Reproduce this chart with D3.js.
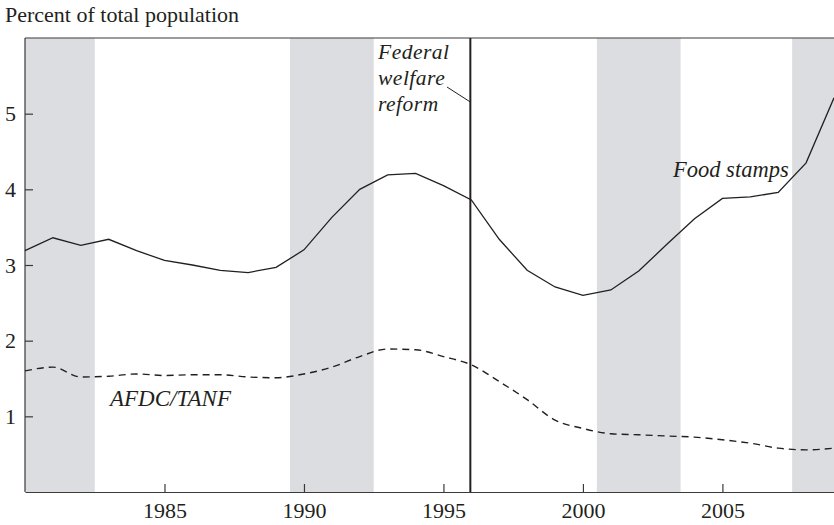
<!DOCTYPE html>
<html>
<head>
<meta charset="utf-8">
<script src="https://cdn.jsdelivr.net/npm/d3@7"></script>
<style>
  body { margin: 0; background: #fff; }
  svg { display: block; font-family: "Liberation Serif", "DejaVu Serif", serif; }
</style>
</head>
<body>
<svg id="chart" width="834" height="525"></svg>
<script>
// years and series (percent of total population)
const years = d3.range(1980, 2010);
const foodStamps = [3.19, 3.36, 3.26, 3.34, 3.19, 3.06, 3.00, 2.93, 2.90, 2.97,
  3.20, 3.63, 4.00, 4.19, 4.21, 4.05, 3.86, 3.34, 2.93, 2.71,
  2.60, 2.67, 2.92, 3.27, 3.61, 3.88, 3.90, 3.96, 4.35, 5.21];
const afdcTanf = [1.60, 1.65, 1.52, 1.53, 1.56, 1.54, 1.55, 1.55, 1.52, 1.51,
  1.56, 1.65, 1.79, 1.89, 1.88, 1.79, 1.68, 1.46, 1.22, 0.95,
  0.84, 0.77, 0.756, 0.74, 0.725, 0.69, 0.645, 0.58, 0.557, 0.58];

// recession shading [start, end]
const recessions = [[1980, 1982.5], [1989.5, 1992.5], [2000.5, 2003.5], [2007.5, 2009]];
const reformYear = 1996;

const yTicks = [1, 2, 3, 4, 5];
const xTicks = [1985, 1990, 1995, 2000, 2005];

const margin = { top: 38, left: 25, bottom: 492, right: 834 };
const ink = "#231f20";

const svg = d3.select("#chart");

const x = d3.scaleLinear().domain([1980, 2009]).range([margin.left, margin.right]);
const y = d3.scaleLinear().domain([0, 6]).range([margin.bottom, margin.top]);

// recession bands
svg.append("g")
  .selectAll("rect")
  .data(recessions)
  .enter()
  .append("rect")
  .attr("x", d => x(d[0]))
  .attr("y", y(6))
  .attr("width", d => x(d[1]) - x(d[0]))
  .attr("height", y(0) - y(6))
  .attr("fill", "#dcdde0");

// top frame line
svg.append("line")
  .attr("x1", x(1980)).attr("x2", 834)
  .attr("y1", y(6)).attr("y2", y(6))
  .attr("stroke", "#3a3a3a").attr("stroke-width", 1.2);

// axes
const yAxis = svg.append("g")
  .attr("transform", "translate(" + margin.left + ",0)")
  .call(d3.axisLeft(y).tickValues(yTicks).tickFormat(d3.format("d"))
    .tickSize(-8).tickSizeOuter(0).tickPadding(9));

const xAxis = svg.append("g")
  .attr("transform", "translate(0," + margin.bottom + ")")
  .call(d3.axisBottom(x).tickValues(xTicks).tickFormat(d3.format("d"))
    .tickSize(-8).tickSizeOuter(0).tickPadding(10));

[yAxis, xAxis].forEach(a => {
  a.attr("font-family", null).attr("font-size", null);
  a.select(".domain").attr("stroke", "#3a3a3a").attr("stroke-width", 1.2);
  a.selectAll(".tick line").attr("stroke", "#3a3a3a").attr("stroke-width", 1.2);
  a.selectAll(".tick text").attr("fill", ink).style("font-size", "22px");
});
// make the left axis span the full height
yAxis.select(".domain").attr("d", "M0," + y(6) + "V" + y(0));

// series lines
const solid = d3.line().x((d, i) => x(years[i])).y(d => y(d));
const smooth = d3.line().x((d, i) => x(years[i])).y(d => y(d)).curve(d3.curveMonotoneX);

svg.append("path")
  .datum(afdcTanf)
  .attr("d", smooth)
  .attr("fill", "none")
  .attr("stroke", ink)
  .attr("stroke-width", 1.4)
  .attr("stroke-dasharray", "7,5");

svg.append("path")
  .datum(foodStamps)
  .attr("d", solid)
  .attr("fill", "none")
  .attr("stroke", ink)
  .attr("stroke-width", 1.3);

// welfare reform line
svg.append("line")
  .attr("x1", x(reformYear) - 1).attr("x2", x(reformYear) - 1)
  .attr("y1", y(6)).attr("y2", y(0))
  .attr("stroke", ink).attr("stroke-width", 2);

// leader from label to line
svg.append("line")
  .attr("x1", 447).attr("y1", 87)
  .attr("x2", x(reformYear) - 1).attr("y2", 102)
  .attr("stroke", ink).attr("stroke-width", 1);

// labels
svg.append("text")
  .attr("x", 5).attr("y", 22)
  .attr("fill", ink)
  .style("font-size", "22px")
  .text("Percent of total population");

const reformLabel = svg.append("text")
  .attr("fill", ink)
  .style("font-size", "21.5px")
  .style("font-style", "italic")
  .style("letter-spacing", "0.5px");
["Federal", "welfare", "reform"].forEach((t, i) => {
  reformLabel.append("tspan").attr("x", 378).attr("y", 59 + i * 26).text(t);
});

svg.append("text")
  .attr("x", 673).attr("y", 177)
  .attr("fill", ink)
  .style("font-size", "22.5px")
  .style("font-style", "italic")
  .text("Food stamps");

svg.append("text")
  .attr("x", 110).attr("y", 406)
  .attr("fill", ink)
  .style("font-size", "23px")
  .style("font-style", "italic")
  .text("AFDC/TANF");
</script>
</body>
</html>
